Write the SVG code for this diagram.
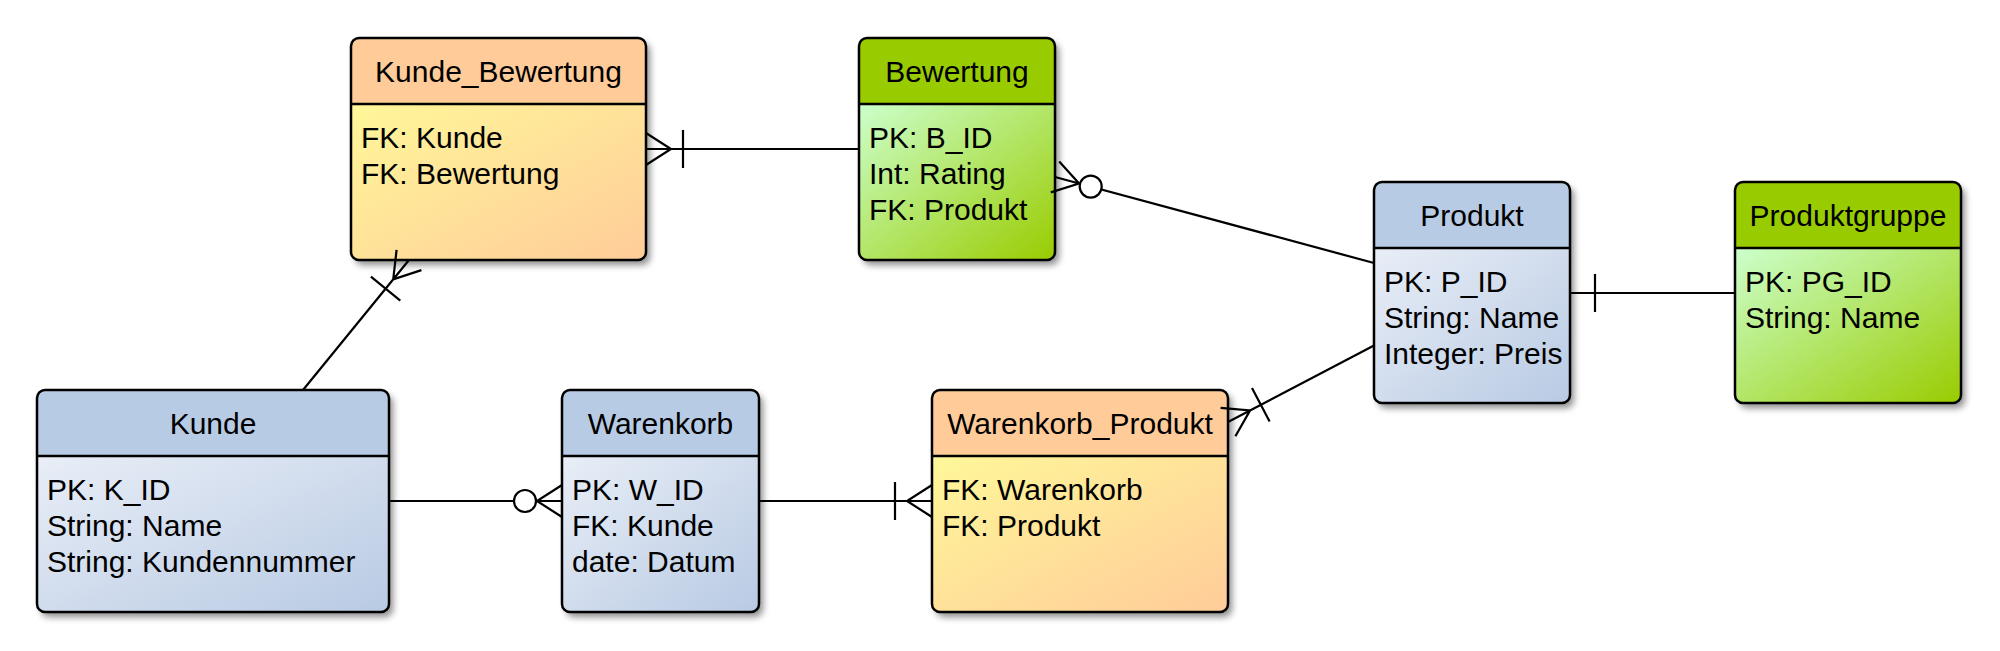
<svg xmlns="http://www.w3.org/2000/svg" width="2000" height="651" viewBox="0 0 2000 651">
<defs>
<style>
.t{font-family:"Liberation Sans",Arial,sans-serif;font-size:30px;fill:#000}
.c{text-anchor:middle}
.ol{fill:none;stroke:#000;stroke-width:2.5}
.dv{stroke:#000;stroke-width:2.5}
.sh{fill:#000;opacity:0.45;filter:url(#blur)}
.hb{fill:#b8cbe4}.hg{fill:#99cc00}.ho{fill:#ffcc99}
.bb{fill:url(#gb)}.bg{fill:url(#gg)}.bo{fill:url(#go)}
.ln{fill:none;stroke:#000;stroke-width:2.2}
.ci{fill:#fff;stroke:#000;stroke-width:2.2}
</style>
<filter id="blur" x="-10%" y="-10%" width="120%" height="120%"><feGaussianBlur stdDeviation="3.5"/></filter>
<linearGradient id="gb" x1="0" y1="0" x2="1" y2="1"><stop offset="0" stop-color="#e9eef7"/><stop offset="1" stop-color="#b8cae3"/></linearGradient>
<linearGradient id="gg" x1="0" y1="0" x2="1" y2="1"><stop offset="0" stop-color="#ccffcc"/><stop offset="1" stop-color="#99cc00"/></linearGradient>
<linearGradient id="go" x1="0" y1="0" x2="1" y2="1"><stop offset="0" stop-color="#fff799"/><stop offset="1" stop-color="#ffcc99"/></linearGradient>
</defs>
<rect width="2000" height="651" fill="#fff"/>

<g id="Kunde_Bewertung">
<rect class="sh" x="355" y="43" width="295" height="222" rx="8"/>
<path class="bo" d="M351,104 H646 V252 A8,8 0 0 1 638,260 H359 A8,8 0 0 1 351,252 Z"/>
<path class="ho" d="M351,104 V46 A8,8 0 0 1 359,38 H638 A8,8 0 0 1 646,46 V104 Z"/>
<line class="dv" x1="351" y1="104" x2="646" y2="104"/>
<rect class="ol" x="351" y="38" width="295" height="222" rx="8"/>
<text class="t c" x="498.5" y="82">Kunde_Bewertung</text>
<text class="t" x="361" y="148">FK: Kunde</text>
<text class="t" x="361" y="184">FK: Bewertung</text>
</g>

<g id="Bewertung">
<rect class="sh" x="863" y="43" width="196" height="222" rx="8"/>
<path class="bg" d="M859,104 H1055 V252 A8,8 0 0 1 1047,260 H867 A8,8 0 0 1 859,252 Z"/>
<path class="hg" d="M859,104 V46 A8,8 0 0 1 867,38 H1047 A8,8 0 0 1 1055,46 V104 Z"/>
<line class="dv" x1="859" y1="104" x2="1055" y2="104"/>
<rect class="ol" x="859" y="38" width="196" height="222" rx="8"/>
<text class="t c" x="957" y="82">Bewertung</text>
<text class="t" x="869" y="148">PK: B_ID</text>
<text class="t" x="869" y="184">Int: Rating</text>
<text class="t" x="869" y="220">FK: Produkt</text>
</g>

<g id="Produkt">
<rect class="sh" x="1378" y="187" width="196" height="221" rx="8"/>
<path class="bb" d="M1374,248 H1570 V395 A8,8 0 0 1 1562,403 H1382 A8,8 0 0 1 1374,395 Z"/>
<path class="hb" d="M1374,248 V190 A8,8 0 0 1 1382,182 H1562 A8,8 0 0 1 1570,190 V248 Z"/>
<line class="dv" x1="1374" y1="248" x2="1570" y2="248"/>
<rect class="ol" x="1374" y="182" width="196" height="221" rx="8"/>
<text class="t c" x="1472" y="226">Produkt</text>
<text class="t" x="1384" y="292">PK: P_ID</text>
<text class="t" x="1384" y="328">String: Name</text>
<text class="t" x="1384" y="364">Integer: Preis</text>
</g>

<g id="Produktgruppe">
<rect class="sh" x="1739" y="187" width="226" height="221" rx="8"/>
<path class="bg" d="M1735,248 H1961 V395 A8,8 0 0 1 1953,403 H1743 A8,8 0 0 1 1735,395 Z"/>
<path class="hg" d="M1735,248 V190 A8,8 0 0 1 1743,182 H1953 A8,8 0 0 1 1961,190 V248 Z"/>
<line class="dv" x1="1735" y1="248" x2="1961" y2="248"/>
<rect class="ol" x="1735" y="182" width="226" height="221" rx="8"/>
<text class="t c" x="1848" y="226">Produktgruppe</text>
<text class="t" x="1745" y="292">PK: PG_ID</text>
<text class="t" x="1745" y="328">String: Name</text>
</g>

<g id="Kunde">
<rect class="sh" x="41" y="395" width="352" height="222" rx="8"/>
<path class="bb" d="M37,456 H389 V604 A8,8 0 0 1 381,612 H45 A8,8 0 0 1 37,604 Z"/>
<path class="hb" d="M37,456 V398 A8,8 0 0 1 45,390 H381 A8,8 0 0 1 389,398 V456 Z"/>
<line class="dv" x1="37" y1="456" x2="389" y2="456"/>
<rect class="ol" x="37" y="390" width="352" height="222" rx="8"/>
<text class="t c" x="213" y="434">Kunde</text>
<text class="t" x="47" y="500">PK: K_ID</text>
<text class="t" x="47" y="536">String: Name</text>
<text class="t" x="47" y="572">String: Kundennummer</text>
</g>

<g id="Warenkorb">
<rect class="sh" x="566" y="395" width="197" height="222" rx="8"/>
<path class="bb" d="M562,456 H759 V604 A8,8 0 0 1 751,612 H570 A8,8 0 0 1 562,604 Z"/>
<path class="hb" d="M562,456 V398 A8,8 0 0 1 570,390 H751 A8,8 0 0 1 759,398 V456 Z"/>
<line class="dv" x1="562" y1="456" x2="759" y2="456"/>
<rect class="ol" x="562" y="390" width="197" height="222" rx="8"/>
<text class="t c" x="660.5" y="434">Warenkorb</text>
<text class="t" x="572" y="500">PK: W_ID</text>
<text class="t" x="572" y="536">FK: Kunde</text>
<text class="t" x="572" y="572">date: Datum</text>
</g>

<g id="Warenkorb_Produkt">
<rect class="sh" x="936" y="395" width="296" height="222" rx="8"/>
<path class="bo" d="M932,456 H1228 V604 A8,8 0 0 1 1220,612 H940 A8,8 0 0 1 932,604 Z"/>
<path class="ho" d="M932,456 V398 A8,8 0 0 1 940,390 H1220 A8,8 0 0 1 1228,398 V456 Z"/>
<line class="dv" x1="932" y1="456" x2="1228" y2="456"/>
<rect class="ol" x="932" y="390" width="296" height="222" rx="8"/>
<text class="t c" x="1080" y="434">Warenkorb_Produkt</text>
<text class="t" x="942" y="500">FK: Warenkorb</text>
<text class="t" x="942" y="536">FK: Produkt</text>
</g>

<g id="connectors">
<!-- Kunde_Bewertung - Bewertung -->
<path class="ln" d="M646,149 H859 M646,133 L671,149 L646,165 M683,130 V168"/>
<!-- Bewertung - Produkt -->
<path class="ln" d="M1055,177 L1374,263 M1050.8,192.4 L1079.1,183.5 L1059.2,161.6"/>
<circle class="ci" cx="1090.7" cy="186.6" r="11"/>
<!-- Produkt - Produktgruppe -->
<path class="ln" d="M1570,293 H1735 M1595,274 V312"/>
<!-- Produkt - Warenkorb_Produkt -->
<path class="ln" d="M1374,345.5 L1228,422 M1235.4,436.2 L1250.1,410.4 L1220.6,407.8 M1269.6,421.6 L1252,388"/>
<!-- Kunde - Kunde_Bewertung -->
<path class="ln" d="M303,390 L409,260 M421.4,270.1 L393.2,279.4 L396.6,249.9 M400.3,300.7 L370.9,276.7"/>
<!-- Kunde - Warenkorb -->
<path class="ln" d="M389,501 H562 M562,485 L537,501 L562,517"/>
<circle class="ci" cx="525" cy="501" r="11"/>
<!-- Warenkorb - Warenkorb_Produkt -->
<path class="ln" d="M759,501 H932 M932,485 L907,501 L932,517 M895,482 V520"/>
</g>
</svg>
